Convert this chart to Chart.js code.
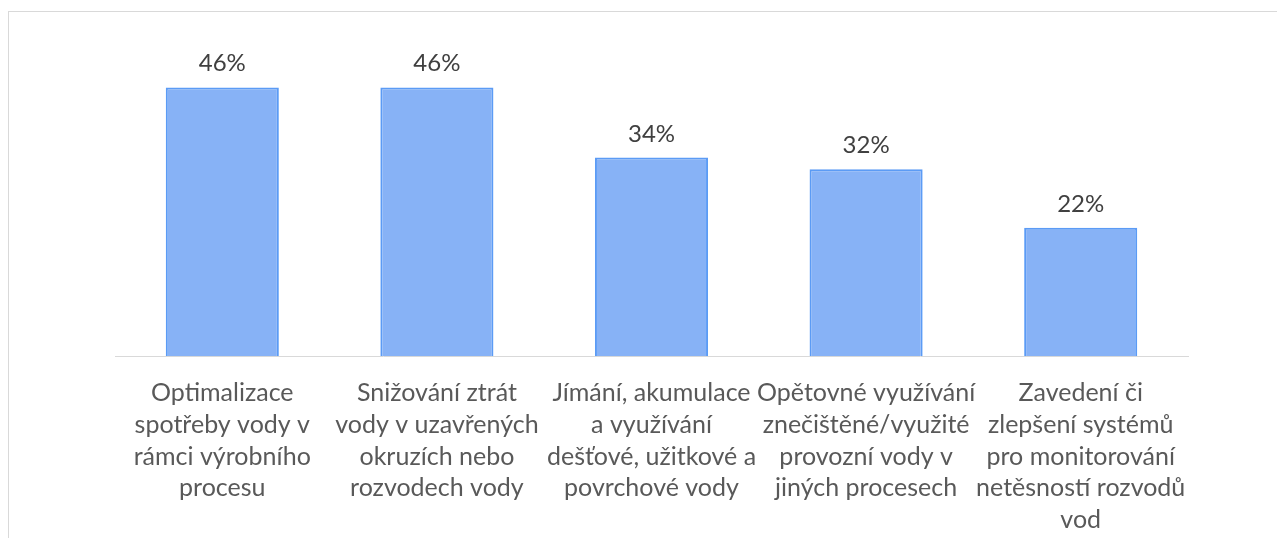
<!DOCTYPE html>
<html lang="cs">
<head>
<meta charset="UTF-8">
<title>Opatření pro úsporu vody</title>
<style>
  body { margin: 0; background: #fff; overflow: hidden; }
  .frame { position: absolute; left: 8px; top: 11px; width: 1300px; height: 600px; border: 1px solid #d9d9d9; }
  #wrap { position: absolute; left: 0; top: 0; width: 1277px; height: 560px; }
</style>
</head>
<body>
<div class="frame"></div>
<div id="wrap"><canvas id="myChart"></canvas></div>
<script src="https://cdn.jsdelivr.net/npm/chart.js"></script>
<script>
  // categories (already wrapped the way they are in the picture)
  const categories = [
    ['Optimalizace', 'spotřeby vody v', 'rámci výrobního', 'procesu'],
    ['Snižování ztrát', 'vody v uzavřených', 'okruzích nebo', 'rozvodech vody'],
    ['Jímání, akumulace', 'a využívání', 'dešťové, užitkové a', 'povrchové vody'],
    ['Opětovné využívání', 'znečištěné/využité', 'provozní vody v', 'jiných procesech'],
    ['Zavedení či', 'zlepšení systémů', 'pro monitorování', 'netěsností rozvodů', 'vod']
  ];
  const values = [46, 46, 34, 32, 22];

  // value labels above bars
  const valueLabels = {
    id: 'valueLabels',
    afterDatasetsDraw(chart) {
      const ctx = chart.ctx;
      const meta = chart.getDatasetMeta(0);
      ctx.save();
      ctx.font = '24px Lato';
      ctx.fillStyle = '#404040';
      ctx.textAlign = 'center';
      ctx.textBaseline = 'alphabetic';
      meta.data.forEach((bar, i) => {
        ctx.fillText(values[i] + '%', bar.x, bar.y - 16);
      });
      ctx.restore();
    }
  };

  Chart.defaults.font.family = 'Lato';

  const myChart = new Chart(document.getElementById('myChart'), {
    type: 'bar',
    data: {
      labels: categories,
      datasets: [{
        data: values,
        backgroundColor: '#87B2F6',
        borderColor: '#5B9BF5',
        borderWidth: 2,
        categoryPercentage: 1,
        barPercentage: 0.527
      }]
    },
    options: {
      responsive: true,
      maintainAspectRatio: false,
      animation: false,
      layout: { padding: { top: 64, left: 115, right: 89, bottom: 3 } },
      plugins: { legend: { display: false }, tooltip: { enabled: false } },
      scales: {
        y: { display: false, min: 0, max: 50 },
        x: {
          grid: { display: false, drawTicks: false },
          border: { display: true, color: '#d9d9d9', width: 1 },
          ticks: {
            color: '#595959',
            padding: 21,
            maxRotation: 0,
            autoSkip: false,
            font: { size: 25, lineHeight: 1.27 }
          }
        }
      }
    },
    plugins: [valueLabels]
  });
</script>
</body>
</html>
